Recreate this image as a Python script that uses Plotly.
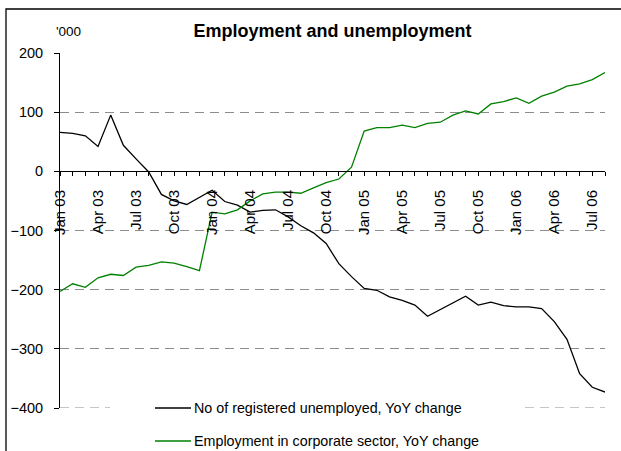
import plotly.graph_objects as go

months = ["Jan", "Feb", "Mar", "Apr", "May", "Jun", "Jul", "Aug", "Sep", "Oct", "Nov", "Dec"]
categories = [f"{m} {y:02d}" for y in (3, 4, 5, 6) for m in months][:44]

unemployed = [66, 64, 60, 42, 95, 44, 21, -1, -39, -50, -56, -44, -32, -51, -57, -69,
              -66, -65, -77, -92, -104, -122, -156, -178, -198, -201, -212, -218, -226,
              -245, -234, -222, -211, -226, -221, -227, -229, -229, -232, -254, -284,
              -342, -365, -373]

employment = [-203, -190, -196, -180, -174, -176, -162, -159, -153, -155, -161, -168,
              -69, -72, -65, -50, -38, -35, -35, -37, -28, -19, -13, 7, 68, 74, 74, 78,
              74, 81, 83, 95, 102, 97, 114, 118, 124, 115, 127, 134, 144, 148, 155, 167]

series_names = ["No of registered unemployed, YoY change",
                "Employment in corporate sector, YoY change"]
series_colors = ["#000000", "#008000"]

tick_labels = [c if i % 3 == 0 else "" for i, c in enumerate(categories)]
y_ticks = [-400, -300, -200, -100, 0, 100, 200]

W, H = 621, 451
L, R, T, B = 60, 16, 53, 43
pw, ph = W - L - R, H - T - B

def px_x(px):
    return (px - L) / pw

def px_y(py):
    return (H - B - py) / ph

font_main = "Liberation Sans, Arial"
grid_color = "#8c8c8c"
grid_dash = "9px,6px"

fig = go.Figure()
for vals, name, col in zip([unemployed, employment], series_names, series_colors):
    fig.add_trace(go.Scatter(x=categories, y=vals, mode="lines", name=name,
                             line=dict(color=col, width=1.3), showlegend=False))

# legend drawn as white panel + sample lines + text
legend_rows = [408, 441]
shapes = [
    dict(type="rect", xref="paper", yref="paper", x0=px_x(6), x1=px_x(640),
         y0=px_y(480), y1=px_y(9), line=dict(color="black", width=1.3), layer="below"),
    dict(type="line", xref="paper", yref="y", x0=0, x1=1, y0=y_ticks[0], y1=y_ticks[0],
         line=dict(color=grid_color, width=1, dash=grid_dash), layer="below"),
    dict(type="rect", xref="paper", yref="paper", x0=px_x(110), x1=px_x(524),
         y0=px_y(470), y1=px_y(396), line=dict(width=0), fillcolor="white", layer="above"),
]
annotations = [dict(text="'000", xref="paper", yref="paper", x=px_x(54), y=px_y(31),
                    xanchor="left", yanchor="middle", showarrow=False,
                    font=dict(size=13.5))]
for row, name, col in zip(legend_rows, series_names, series_colors):
    shapes.append(dict(type="line", xref="paper", yref="paper", x0=px_x(155), x1=px_x(191),
                       y0=px_y(row), y1=px_y(row), line=dict(color=col, width=1.3),
                       layer="above"))
    annotations.append(dict(text=name, xref="paper", yref="paper", x=px_x(192), y=px_y(row),
                            xanchor="left", yanchor="middle", showarrow=False,
                            font=dict(size=14.3)))

fig.update_layout(
    width=W, height=H,
    margin=dict(l=L, r=R, t=T, b=B, autoexpand=False),
    paper_bgcolor="white", plot_bgcolor="white",
    font=dict(family=font_main, size=14.5, color="black"),
    title=dict(text="<b>Employment and unemployment</b>", xref="paper", x=0.5,
               xanchor="center", yref="container", y=1 - 31 / H, yanchor="middle",
               font=dict(family=font_main, size=18, color="black")),
    showlegend=False,
    xaxis=dict(type="category", range=[0, 43], tickmode="array", tickvals=categories,
               ticktext=tick_labels, tickangle=-90, ticks="outside", ticklen=4,
               tickcolor="black", showline=True, linecolor="black", linewidth=1,
               showgrid=False, zeroline=False, anchor="free",
               position=px_y(171), tickfont=dict(size=15), ticklabelstandoff=8),
    yaxis=dict(range=[-400, 200], tickmode="array", tickvals=y_ticks,
               ticks="outside", ticklen=5, tickcolor="black", showline=True,
               linecolor="black", linewidth=1, showgrid=True, gridcolor=grid_color,
               griddash=grid_dash, gridwidth=1, zeroline=False,
               ticklabelstandoff=8, tickfont=dict(size=14.5)),
    annotations=annotations,
    shapes=shapes,
)

fig.write_html("out.html", config={"displayModeBar": False},
               post_script="document.body.style.margin='0';")
